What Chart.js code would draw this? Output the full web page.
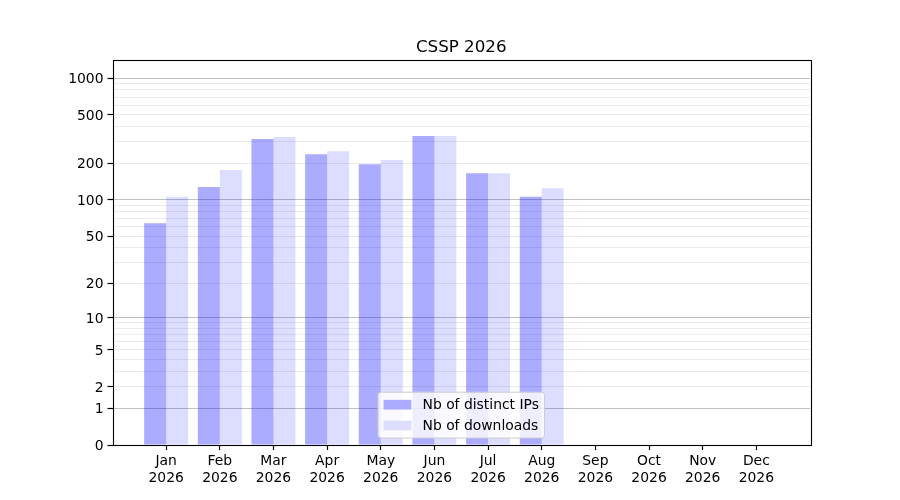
<!DOCTYPE html>
<html>
<head>
<meta charset="utf-8">
<title>CSSP 2026</title>
<script src="https://cdn.jsdelivr.net/npm/chart.js@4/dist/chart.umd.min.js"></script>
<style>
    body { margin: 0; background: #fff; }
    #wrap { width: 900px; height: 500px; }
</style>
</head>
<body>
<div id="wrap"><canvas id="grafica" width="900" height="500"></canvas></div>
<script>
// datos
const meses = ['Jan', 'Feb', 'Mar', 'Apr', 'May', 'Jun', 'Jul', 'Aug', 'Sep', 'Oct', 'Nov', 'Dec'];
const anio = '2026';
const ipsDistintas = [64, 128, 317, 238, 197, 335, 166, 106, 0, 0, 0, 0];
const descargas = [106, 176, 329, 252, 213, 335, 166, 125, 0, 0, 0, 0];
const ticksY = [0, 1, 2, 5, 10, 20, 50, 100, 200, 500, 1000];
const lineasFuertes = [1, 10, 100, 1000];
const topeY = 1405;

// escala log10(x + 1)
const tr = v => Math.log10(v + 1);

// lineas menores 2..9, 20..90, 200..900
let menores = [];
[1, 10, 100].forEach(d => {
    for (let k = 2; k <= 9; k++) menores.push(k * d);
});

let todosTicks = [];
ticksY.forEach(v => todosTicks.push({ value: tr(v), raw: v, lbl: String(v) }));
menores.forEach(v => {
    if (!ticksY.includes(v)) todosTicks.push({ value: tr(v), raw: v, lbl: '' });
});
todosTicks.sort((a, b) => a.value - b.value);

Chart.defaults.font.family = '"DejaVu Sans", sans-serif';
Chart.defaults.font.size = 13.9;
Chart.defaults.color = '#000';

// leyenda dentro del area, abajo al centro
const leyendaAbajo = {
    id: 'leyendaAbajo',
    afterDraw(chart) {
        const ctx = chart.ctx;
        const area = chart.chartArea;
        const fs = 13.9;
        ctx.save();
        ctx.font = fs + 'px "DejaVu Sans", sans-serif';
        const items = chart.data.datasets;
        let anchoTxt = 0;
        items.forEach(d => { anchoTxt = Math.max(anchoTxt, ctx.measureText(d.label).width); });
        const pad = 0.4 * fs, handle = 2.0 * fs, sep = 0.8 * fs, fila = fs, esp = 0.5 * fs;
        const w = pad + handle + sep + anchoTxt + pad;
        const h = pad * 2 + fila * items.length + esp * (items.length - 1);
        const x = (area.left + area.right) / 2 - w / 2;
        const y = area.bottom - 0.5 * fs - h;

        ctx.beginPath();
        ctx.roundRect(x, y, w, h, 3);
        ctx.fillStyle = 'rgba(255,255,255,0.8)';
        ctx.fill();
        ctx.strokeStyle = '#cccccc';
        ctx.lineWidth = 1;
        ctx.stroke();

        items.forEach((d, i) => {
            const cy = y + pad + i * (fila + esp) + fila / 2;
            ctx.fillStyle = 'rgba(255,255,255,1)';
            ctx.fillRect(x + pad, cy - 0.35 * fs, handle, 0.7 * fs);
            ctx.fillStyle = d.backgroundColor;
            ctx.fillRect(x + pad, cy - 0.35 * fs, handle, 0.7 * fs);
            ctx.fillStyle = '#000';
            ctx.textBaseline = 'middle';
            ctx.textAlign = 'left';
            ctx.fillText(d.label, x + pad + handle + sep, cy + 1);
        });
        ctx.restore();
    }
};

// marco completo
const marco = {
    id: 'marco',
    afterDatasetsDraw(chart) {
        const a = chart.chartArea;
        const ctx = chart.ctx;
        ctx.save();
        ctx.strokeStyle = '#000';
        ctx.lineWidth = 1.1;
        ctx.strokeRect(Math.round(a.left) + 0.5, Math.round(a.top) + 0.5,
            Math.round(a.right - a.left), Math.round(a.bottom - a.top));
        ctx.restore();
    }
};

new Chart(document.getElementById('grafica').getContext('2d'), {
    type: 'bar',
    data: {
        datasets: [
            {
                label: 'Nb of distinct IPs',
                data: ipsDistintas.map((v, i) => ({ x: i, y: tr(v) })),
                backgroundColor: 'rgba(0,0,255,0.33)',
                categoryPercentage: 0.82,
                barPercentage: 1.0
            },
            {
                label: 'Nb of downloads',
                data: descargas.map((v, i) => ({ x: i, y: tr(v) })),
                backgroundColor: 'rgba(0,0,255,0.135)',
                categoryPercentage: 0.82,
                barPercentage: 1.0
            }
        ]
    },
    options: {
        responsive: false,
        animation: false,
        devicePixelRatio: 1,
        layout: { padding: { left: 0, right: 90, top: 0, bottom: 0 } },
        plugins: {
            legend: { display: false },
            tooltip: { enabled: false },
            title: {
                display: true,
                fullSize: false,
                text: 'CSSP ' + anio,
                font: { size: 16.7, weight: 'normal' },
                color: '#000',
                padding: { top: 38, bottom: 2 }
            }
        },
        scales: {
            x: {
                type: 'linear',
                min: -1,
                max: 12,
                offset: false,
                afterBuildTicks: s => { s.ticks = meses.map((m, i) => ({ value: i })); },
                afterFit: s => { s.height = 55; },
                ticks: {
                    autoSkip: false,
                    maxRotation: 0,
                    padding: 3,
                    callback: v => [meses[v], anio]
                },
                grid: { offset: false, drawOnChartArea: false, tickLength: 5, tickColor: '#000', tickWidth: 1.2 },
                border: { display: false }
            },
            y: {
                type: 'linear',
                min: 0,
                max: tr(topeY),
                afterBuildTicks: s => { s.ticks = todosTicks.map(t => Object.assign({}, t)); },
                afterFit: s => { s.width = 112.5; },
                ticks: {
                    autoSkip: false,
                    padding: 4,
                    labelOffset: 1.5,
                    callback: (v, i, t) => t[i].lbl
                },
                grid: {
                    drawTicks: true,
                    tickLength: 5,
                    tickWidth: 1.2,
                    lineWidth: 1,
                    color: c => {
                        const t = c.tick;
                        if (!t || t.raw === 0) return 'rgba(0,0,0,0)';
                        return lineasFuertes.includes(t.raw) ? 'rgba(150,150,150,0.6)' : 'rgba(176,176,176,0.25)';
                    },
                    tickColor: c => (c.tick && c.tick.lbl !== '') ? '#000' : 'rgba(0,0,0,0)'
                },
                border: { display: false }
            }
        }
    },
    plugins: [leyendaAbajo, marco]
});
</script>
</body>
</html>
